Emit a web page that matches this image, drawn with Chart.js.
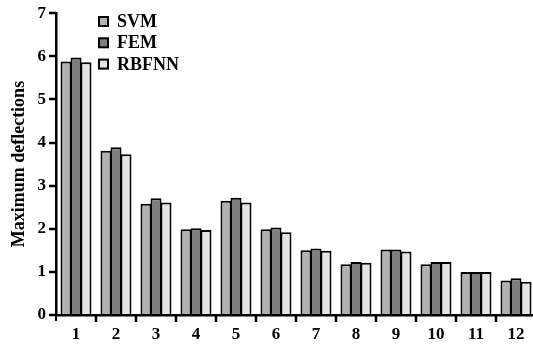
<!DOCTYPE html>
<html>
<head>
<meta charset="utf-8">
<script src="https://cdn.jsdelivr.net/npm/chart.js@4.4.1/dist/chart.umd.min.js"></script>
<style>
  html, body { margin: 0; padding: 0; background: #fff; overflow: hidden; }
  #wrap { width: 533px; height: 347px; overflow: hidden; }
</style>
</head>
<body>
<div id="wrap"><canvas id="chart" width="540" height="347"></canvas></div>
<script>
const categories = ['1', '2', '3', '4', '5', '6', '7', '8', '9', '10', '11', '12'];
const svm    = [5.88, 3.81, 2.58, 1.99, 2.65, 1.99, 1.50, 1.18, 1.52, 1.18, 1.00, 0.80];
const fem    = [5.97, 3.89, 2.71, 2.01, 2.72, 2.03, 1.54, 1.23, 1.52, 1.23, 1.00, 0.85];
const rbfnn  = [5.86, 3.73, 2.61, 1.97, 2.61, 1.92, 1.49, 1.21, 1.47, 1.23, 1.00, 0.77];
const yTicks = [0, 1, 2, 3, 4, 5, 6, 7];

const serif = "'Liberation Serif', 'DejaVu Serif', serif";

// legend drawn by hand, top left inside the plot
const boxLegend = {
    id: 'boxLegend',
    afterDraw(chart) {
        const ctx = chart.ctx;
        ctx.save();
        ctx.font = 'bold 18px ' + serif;
        ctx.textBaseline = 'middle';
        chart.data.datasets.forEach((ds, i) => {
            const cy = 21.5 + i * 21.3;
            ctx.fillStyle = ds.backgroundColor;
            ctx.fillRect(99, cy - 4.5, 9, 9);
            ctx.strokeStyle = '#000';
            ctx.lineWidth = 2;
            ctx.strokeRect(99, cy - 4.5, 9, 9);
            ctx.fillStyle = '#000';
            ctx.fillText(ds.label, 117, cy + 1);
        });
        ctx.restore();
    }
};

// short outward tick marks on both axes (category boundaries on x)
const axisTicks = {
    id: 'axisTicks',
    afterDraw(chart) {
        const ctx = chart.ctx;
        const x = chart.scales.x, y = chart.scales.y;
        ctx.save();
        ctx.strokeStyle = '#000';
        ctx.lineWidth = 2.5;
        ctx.beginPath();
        yTicks.forEach(v => {
            const py = Math.round(y.getPixelForValue(v));
            ctx.moveTo(y.right - 7, py);
            ctx.lineTo(y.right, py);
        });
        for (let i = 1; i <= categories.length; i++) {
            const px = Math.round(x.getPixelForValue(i - 0.5));
            ctx.moveTo(px, x.top);
            ctx.lineTo(px, x.top + 7);
        }
        ctx.stroke();
        ctx.restore();
    }
};

let ctx = document.getElementById('chart').getContext('2d');
let chart = new Chart(ctx, {
    type: 'bar',
    data: {
        labels: categories,
        datasets: [
            { label: 'SVM', data: svm, backgroundColor: '#b2b2b2' },
            { label: 'FEM', data: fem, backgroundColor: '#7f7f7f' },
            { label: 'RBFNN', data: rbfnn, backgroundColor: '#e3e3e3' }
        ]
    },
    options: {
        responsive: false,
        animation: false,
        layout: { padding: { top: 13, right: 4, left: 0, bottom: 0 } },
        datasets: {
            bar: {
                borderColor: '#000',
                borderWidth: 2,
                borderSkipped: 'start',
                categoryPercentage: 0.75,
                barPercentage: 1.1
            }
        },
        plugins: {
            legend: { display: false },
            tooltip: { enabled: false }
        },
        scales: {
            x: {
                afterFit: s => { s.height = 32; },
                grid: { offset: true, drawOnChartArea: false, drawTicks: true, tickLength: 6, color: '#000', lineWidth: 2, tickColor: '#000', tickWidth: 2 },
                border: { display: true, color: '#000', width: 2.5, z: 1 },
                ticks: { color: '#000', font: { family: serif, size: 17, weight: 'bold' }, padding: 3, maxRotation: 0 }
            },
            y: {
                min: 0,
                max: 7,
                afterFit: s => { s.width = 56; },
                afterBuildTicks: s => { s.ticks = yTicks.map(v => ({ value: v })); },
                grid: { drawOnChartArea: false, drawTicks: true, tickLength: 7, color: '#000', lineWidth: 2, tickColor: '#000', tickWidth: 2 },
                border: { display: true, color: '#000', width: 2.5, z: 1 },
                ticks: { color: '#000', font: { family: serif, size: 17, weight: 'bold' }, padding: 3 },
                title: {
                    display: true,
                    text: 'Maximum deflections',
                    color: '#000',
                    font: { family: serif, size: 18, weight: 'bold' },
                    padding: { top: 9, bottom: 0 }
                }
            }
        }
    },
    plugins: [axisTicks, boxLegend]
});
</script>
</body>
</html>
